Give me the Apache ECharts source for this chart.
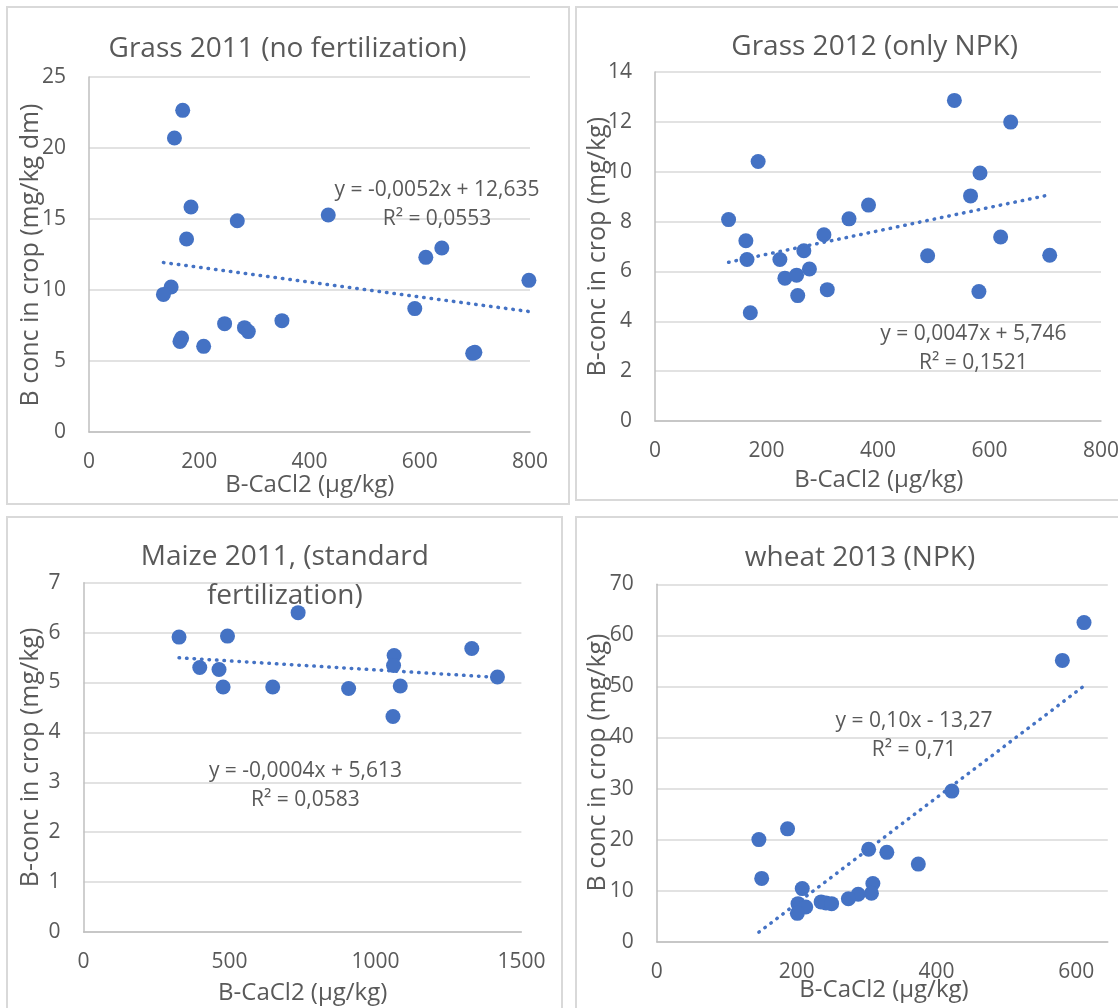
<!DOCTYPE html>
<html><head><meta charset="utf-8">
<script src="https://cdn.jsdelivr.net/npm/echarts@6/dist/echarts.min.js"></script>
<style>
html,body{margin:0;padding:0;background:#fff;overflow:hidden;width:1118px;height:1008px;position:relative;}
.p{position:absolute;border:2px solid #d9d9d9;background:#fff;}
.c{position:absolute;left:0;top:0;}
</style></head><body>
<div class="p" style="left:6px;top:6px;width:560px;height:495px"><div id="c1" class="c" style="width:560px;height:495px"></div></div>
<div class="p" style="left:575px;top:6px;width:600px;height:491px"><div id="c2" class="c" style="width:600px;height:491px"></div></div>
<div class="p" style="left:6px;top:516px;width:553px;height:500px"><div id="c3" class="c" style="width:553px;height:500px"></div></div>
<div class="p" style="left:575px;top:516px;width:600px;height:500px"><div id="c4" class="c" style="width:600px;height:500px"></div></div>
<script>
// ---- Data ----
const grass2011X = [170, 155, 185, 269, 177, 434, 611, 640, 798, 149, 135, 591, 246, 282, 289, 350, 168, 165, 208, 700, 696];
const grass2011Y = [22.65, 20.7, 15.85, 14.88, 13.59, 15.28, 12.3, 12.96, 10.68, 10.21, 9.69, 8.69, 7.63, 7.35, 7.07, 7.84, 6.62, 6.38, 6.03, 5.61, 5.54];

const grass2012X = [537, 638, 185, 583, 566, 383, 348, 132, 303, 620, 163, 267, 489, 708, 165, 224, 277, 233, 254, 309, 256, 581, 171];
const grass2012Y = [12.86, 11.99, 10.41, 9.95, 9.03, 8.66, 8.11, 8.08, 7.47, 7.38, 7.23, 6.83, 6.63, 6.65, 6.48, 6.48, 6.10, 5.73, 5.85, 5.27, 5.03, 5.19, 4.34];

const maize2011X = [735, 327, 493, 1330, 1064, 1062, 398, 464, 1418, 478, 648, 908, 1085, 1060];
const maize2011Y = [6.40, 5.91, 5.93, 5.68, 5.54, 5.34, 5.30, 5.26, 5.11, 4.91, 4.91, 4.88, 4.93, 4.32];

const wheat2013X = [611, 580, 422, 187, 146, 303, 329, 374, 150, 309, 208, 307, 288, 274, 235, 242, 250, 202, 213, 201];
const wheat2013Y = [62.5, 55.1, 29.5, 22.1, 20.0, 18.1, 17.5, 15.2, 12.4, 11.4, 10.4, 9.5, 9.3, 8.4, 7.8, 7.6, 7.45, 7.45, 6.8, 5.55];

// trendline coefficients [slope, intercept]
const trendGrass2011 = [-0.0052, 12.635];
const trendGrass2012 = [0.0047, 5.746];
const trendMaize2011 = [-0.00036, 5.613];
const trendWheat2013 = [0.1037, -13.27];

const titles = ["Grass 2011 (no fertilization)", "Grass 2012 (only NPK)", ["Maize 2011, (standard", "fertilization)"], "wheat 2013 (NPK)"];
const yNames = ["B conc in crop (mg/kg dm)", "B-conc in crop (mg/kg)", "B-conc in crop (mg/kg)", "B conc in crop (mg/kg)"];
const xName = "B-CaCl2 (µg/kg)";
const eqLabels = [
  ["y = -0,0052x + 12,635", "R² = 0,0553"],
  ["y = 0,0047x + 5,746", "R² = 0,1521"],
  ["y = -0,0004x + 5,613", "R² = 0,0583"],
  ["y = 0,10x - 13,27", "R² = 0,71"]
];

const FONT = '"Open Sans", "Liberation Sans", sans-serif';
const TXT = '#595959';
const BLUE = '#4472C4';

function txt(x, y, s, size, rot) {
  return {type: 'text', x: x, y: y, rotation: rot || 0, z: 10,
    style: {text: s, fill: TXT, font: size + 'px ' + FONT, textAlign: 'center', textVerticalAlign: 'middle'}};
}

function build(id, cfg) {
  const chart = echarts.init(document.getElementById(id), null, {renderer: 'canvas'});
  const pts = cfg.x.map((v, i) => [v, cfg.y[i]]);
  const xmin = Math.min.apply(null, cfg.x), xmax = Math.max.apply(null, cfg.x);
  const trend = [[xmin, cfg.t[0] * xmin + cfg.t[1]], [xmax, cfg.t[0] * xmax + cfg.t[1]]];
  const g = [];
  if (Array.isArray(cfg.title)) {
    g.push(txt(cfg.titlePos[0], cfg.titlePos[1], cfg.title[0], 28));
    g.push(txt(cfg.titlePos[0], cfg.titlePos[1] + 39, cfg.title[1], 28));
  } else {
    g.push(txt(cfg.titlePos[0], cfg.titlePos[1], cfg.title, 28));
  }
  g.push(txt(cfg.yNamePos[0], cfg.yNamePos[1], cfg.yName, 25, Math.PI / 2));
  g.push(txt(cfg.xNamePos[0], cfg.xNamePos[1], xName, 24));
  g.push(txt(cfg.eqPos[0], cfg.eqPos[1], cfg.eq[0], 21));
  g.push(txt(cfg.eqPos[0], cfg.eqPos[1] + 29, cfg.eq[1], 21));
  chart.setOption({
    animation: false,
    backgroundColor: '#fff',
    grid: {left: cfg.grid[0], top: cfg.grid[1], width: cfg.grid[2], height: cfg.grid[3], containLabel: false},
    xAxis: {
      type: 'value', min: 0, max: cfg.xmax, interval: cfg.xint,
      axisLine: {show: true, lineStyle: {color: '#bfbfbf', width: 1.5}},
      axisTick: {show: false}, splitLine: {show: false},
      axisLabel: {color: TXT, fontFamily: FONT, fontSize: 21, margin: 20, showMaxLabel: cfg.showMax !== false,
        formatter: v => String(v)}
    },
    yAxis: {
      type: 'value', min: 0, max: cfg.ymax, interval: cfg.yint,
      axisLine: {show: true, lineStyle: {color: '#bfbfbf', width: 1.5}},
      axisTick: {show: false},
      splitLine: {show: true, lineStyle: {color: '#d9d9d9', width: 1.5}},
      axisLabel: {color: TXT, fontFamily: FONT, fontSize: 21, margin: 23, formatter: v => String(v)}
    },
    series: [
      {type: 'scatter', data: pts, symbol: 'circle', symbolSize: 15, itemStyle: {color: BLUE, opacity: 1}, z: 2},
      {type: 'line', data: trend, showSymbol: false, symbol: 'none', z: 3, silent: true,
        lineStyle: {color: BLUE, width: 3.5, type: [0.5, 7], cap: 'round'}}
    ],
    graphic: g
  });
}

build('c1', {x: grass2011X, y: grass2011Y, t: trendGrass2011, xmax: 800, xint: 200, ymax: 25, yint: 5,
  grid: [81, 69, 441, 355], title: titles[0], titlePos: [279.5, 41.3], yName: yNames[0], yNamePos: [22.4, 247],
  xNamePos: [301.8, 477], eq: eqLabels[0], eqPos: [429, 182]});
build('c2', {x: grass2012X, y: grass2012Y, t: trendGrass2012, xmax: 800, xint: 200, ymax: 14, yint: 2,
  grid: [78, 64, 446, 349], title: titles[1], titlePos: [297.6, 38.7], yName: yNames[1], yNamePos: [20.5, 238.7],
  xNamePos: [301.8, 472], eq: eqLabels[1], eqPos: [396.4, 326]});
build('c3', {x: maize2011X, y: maize2011Y, t: trendMaize2011, xmax: 1500, xint: 500, ymax: 7, yint: 1,
  grid: [75.6, 64.7, 437.8, 349.3], title: titles[2], titlePos: [276.8, 38.7], yName: yNames[2], yNamePos: [22.4, 239.5],
  xNamePos: [294.7, 475], eq: eqLabels[2], eqPos: [297.4, 252.7]});
build('c4', {x: wheat2013X, y: wheat2013Y, t: trendWheat2013, xmax: 645, xint: 200, ymax: 70, yint: 10, showMax: false,
  grid: [79.8, 66.3, 451, 357.4], title: titles[3], titlePos: [283, 39.7], yName: yNames[3], yNamePos: [20.5, 244.5],
  xNamePos: [307, 472], eq: eqLabels[3], eqPos: [337, 203]});
</script>
</body></html>
